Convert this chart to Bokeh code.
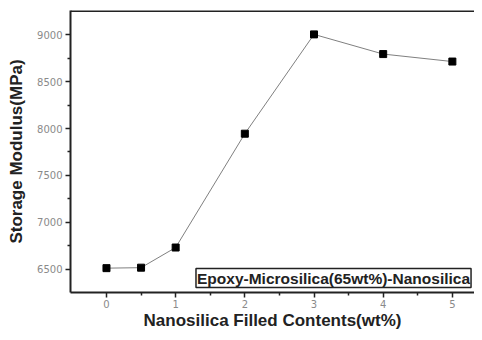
from bokeh.plotting import figure
from bokeh.models import FixedTicker, Label, Span
from bokeh.embed import file_html
from bokeh.resources import INLINE

# Data
nanosilica_wt = [0, 0.5, 1, 2, 3, 4, 5]
storage_modulus = [6510, 6515, 6730, 7945, 9005, 8795, 8715]
x_ticks = [0, 1, 2, 3, 4, 5]
x_minor = [0.5, 1.5, 2.5, 3.5, 4.5]
y_ticks = [6500, 7000, 7500, 8000, 8500, 9000]
y_minor = [6750, 7250, 7750, 8250, 8750]
legend_text = "Epoxy-Microsilica(65wt%)-Nanosilica"
x_title = "Nanosilica Filled Contents(wt%)"
y_title = "Storage Modulus(MPa)"

X0, X1 = -0.52, 5.32
Y0, Y1 = 6250, 9260

p = figure(width=474, height=332, output_backend="svg", toolbar_location=None,
           x_range=(X0, X1), y_range=(Y0, Y1),
           min_border_left=70, min_border_right=0, min_border_top=10, min_border_bottom=0)
p.outline_line_color = None
p.grid.visible = False
p.background_fill_color = "white"

p.line(nanosilica_wt, storage_modulus, line_color="#808080", line_width=1)
p.scatter(nanosilica_wt, storage_modulus, marker="square", size=7,
          fill_color="black", line_color="black")

p.xaxis.ticker = FixedTicker(ticks=x_ticks, minor_ticks=x_minor)
p.yaxis.ticker = FixedTicker(ticks=y_ticks, minor_ticks=y_minor)

for ax in (p.xaxis, p.yaxis):
    ax.axis_line_color = "#222222"
    ax.axis_line_width = 2
    ax.major_tick_line_color = "#222222"
    ax.major_tick_line_width = 1.5
    ax.minor_tick_line_color = "#222222"
    ax.minor_tick_line_width = 1.5
    ax.major_tick_in = 0
    ax.major_tick_out = 5
    ax.minor_tick_in = 0
    ax.minor_tick_out = 3
    ax.major_label_text_color = "#8a8a8a"
    ax.major_label_text_font = "DejaVu Sans"
    ax.major_label_text_font_size = "10px"
    ax.axis_label_text_font = "Liberation Sans"
    ax.axis_label_text_font_style = "bold"
    ax.axis_label_text_color = "#222222"
    ax.axis_label_text_font_size = "17px"

p.xaxis.axis_label = x_title
p.yaxis.axis_label = y_title
p.xaxis.major_label_standoff = 2
p.yaxis.major_label_standoff = 3
p.xaxis.axis_label_standoff = 0
p.yaxis.axis_label_standoff = 8

top = Span(location=Y1 - 6, dimension="width", line_color="#222222", line_width=2)
p.add_layout(top)

lab = Label(x=5.27, y=6303, text=legend_text, text_align="right", text_baseline="bottom",
            text_font="Liberation Sans", text_font_style="bold", text_font_size="15.5px",
            text_color="#222222", border_line_color="#222222", border_line_width=1.5,
            background_fill_color="white", padding=1)
p.add_layout(lab)

open("out.html", "w").write(file_html(p, INLINE))
